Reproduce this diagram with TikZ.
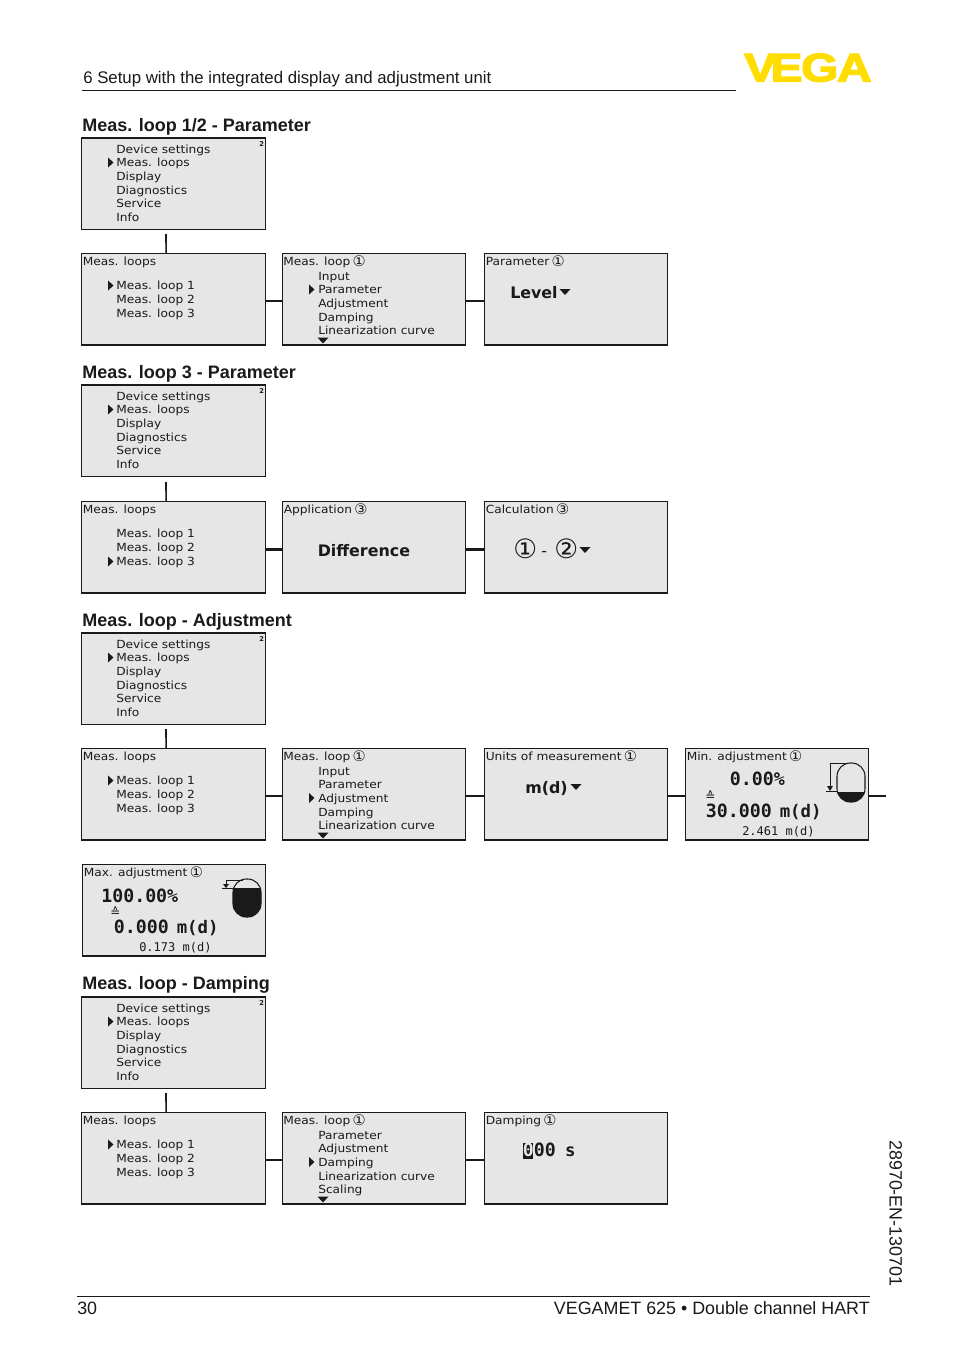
\documentclass[tikz,border=0pt]{standalone}
\usepackage{fontspec}
\setmainfont{Liberation Sans}
\newfontfamily\lcd[FakeStretch=1.09]{DejaVu Sans}
\newfontfamily\lcdn{DejaVu Sans}
\newfontfamily\lcdm{DejaVu Sans Mono}
\newfontfamily\vegafont[FakeBold=3]{Liberation Sans Bold}
\definecolor{screenbg}{HTML}{E6E6E6}
\definecolor{vegay}{HTML}{FFDD00}
\definecolor{ink}{HTML}{1A1A1A}
\newcount\tn
\newcommand\cn[1]{\kern-1.2pt{\lcdn\fontsize{11}{10}\selectfont\raisebox{-.8pt}{#1}}}
\newcommand\vm{\fontsize{13}{15}\selectfont}
\tikzset{
 x=.75pt,y=-.75pt,
 screen/.style={draw=ink,fill=screenbg,line width=.95pt,minimum width=137.6pt,minimum height=68.7pt,inner sep=0,anchor=north west,xshift=-.6pt,yshift=.5pt},
 txt/.style={anchor=base west,inner sep=0,text=ink},
 link/.style={draw=ink,line width=1.25pt},
 thicklink/.style={draw=ink,line width=2pt},
 rule/.style={draw=ink,line width=.6pt},
 heading/.style={txt,font=\bfseries\fontsize{13.5}{16}\selectfont},
 plain/.style={txt,font=\fontsize{12.6}{15}\selectfont},
 plainb/.style={txt,font=\fontsize{13.4}{15}\selectfont},
 menu/.style={txt,font=\lcd\fontsize{8.4}{10}\selectfont},
 big/.style={txt,font=\lcdn\bfseries\fontsize{11.9}{14}\selectfont},
 val/.style={txt,font=\lcdm\bfseries\fontsize{13.7}{15}\selectfont},
 small/.style={txt,font=\lcdm\fontsize{9}{11}\selectfont},
 corr/.style={txt,font=\lcdn\fontsize{9}{10}\selectfont},
 circ/.style={txt,font=\lcdn\fontsize{20}{22}\selectfont},
}
\newcommand\T[4][menu]{\global\advance\tn by 1 \node[#1] (t\the\tn) at (#2,#3) {#4};}
\newcommand\rtri[2]{\fill[ink] (#1,#2-5) -- (#1+5.5,#2) -- (#1,#2+5) -- cycle;}
\newcommand\dtri[2]{\fill[ink] (#1-5.5,#2-3) -- (#1+5.5,#2-3) -- (#1,#2+3) -- cycle;}
\newcommand\mainmenu[2]{%
 \node[screen] (#1) at (82,#2) {};
 \T{116}{#2+15}{Device settings}
 \T{116}{#2+28.7}{Meas. loops}
 \T{116}{#2+42.4}{Display}
 \T{116}{#2+56.1}{Diagnostics}
 \T{116}{#2+69.8}{Service}
 \T{116}{#2+83.5}{Info}
 \T[txt,font=\lcdn\bfseries\fontsize{5}{6}\selectfont]{259}{#2+8}{2}
 \rtri{108}{#2+24.5}
}
\newcommand\loops[3]{%
 \node[screen] (#1) at (82,#2) {};
 \T{82.5}{#2+11.5}{Meas. loops}
 \T{116}{#2+36}{Meas. loop 1}
 \T{116}{#2+50}{Meas. loop 2}
 \T{116}{#2+63.7}{Meas. loop 3}
 \rtri{108}{#2+#3}
}
\newcommand\submenu[8]{%
 \node[screen] (#1) at (282.5,#2) {};
 \T{283}{#2+11.5}{Meas. loop \cn{①}}
 \T{318}{#2+26.5}{#3}
 \T{318}{#2+40.2}{#4}
 \T{318}{#2+53.9}{#5}
 \T{318}{#2+67.6}{#6}
 \T{318}{#2+81.3}{#7}
 \rtri{309}{#2+#8}
 \dtri{323}{#2+87}
}
\newcommand\tankoutline[4]{\draw[ink,line width=.8pt,rounded corners=10pt,fill=screenbg] (#1,#2) rectangle (#3,#4);}
\begin{document}
\begin{tikzpicture}
\useasboundingbox[fill=white] (0,0) rectangle (954,1354);
% header / footer
\T[plain]{83}{83}{6 Setup with the integrated display and adjustment unit}
\coordinate (hl) at (82,90.5); \coordinate (hr) at (736,90.5);
\draw[rule] (hl) -- (hr);
\node[anchor=base west,inner sep=0,text=vegay,font=\vegafont\fontsize{30}{30}\selectfont] (logo) at (744,81.5) {\scalebox{1.2}[1.0]{V\kern-.12em E\kern-.03em G\kern-.03em A}};
\coordinate (fl) at (77,1296.5); \coordinate (fr) at (870,1296.5);
\draw[rule] (fl) -- (fr);
\T[plainb]{77}{1314.5}{30}
\node[plainb,anchor=base east] (foot) at (870,1314) {VEGAMET 625 • Double channel HART};
\node[plainb,anchor=base west,rotate=-90] (code) at (889.5,1140) {28970-EN-130701};

% Section 1
\T[heading]{82}{131}{Meas. loop 1/2 - Parameter}
\mainmenu{a1}{138}
\loops{a2}{253.5}{32}
\submenu{a3}{253.5}{Input}{Parameter}{Adjustment}{Damping}{Linearization curve}{36}
\node[screen] (a4) at (484.5,253.5) {};
\T{485.5}{265}{Parameter \cn{①}}
\T[big]{510}{298}{Level}
\dtri{565}{292}
\draw[link] ([shift={(-7.5,4)}]a1.south) -- ([xshift=-5.6pt]a2.north);
\draw[link] ([yshift=-1.5pt]a2.east) -- ([yshift=-1.5pt]a3.west);
\draw[link] ([yshift=-1.5pt]a3.east) -- ([yshift=-1.5pt]a4.west);

% Section 2
\T[heading]{82}{378}{Meas. loop 3 - Parameter}
\mainmenu{b1}{385}
\loops{b2}{501.5}{60}
\node[screen] (b3) at (282.5,501.5) {};
\T{283.5}{513}{Application \cn{③}}
\T[big]{317.5}{556.5}{Difference}
\node[screen] (b4) at (484.5,501.5) {};
\T{485.5}{513}{Calculation \cn{③}}
\T[circ]{513}{558.5}{①}
\T[txt,font=\lcdn\fontsize{12}{14}\selectfont]{541}{556}{-}
\T[circ]{554}{558.5}{②}
\dtri{585}{550}
\draw[link] ([shift={(-7.5,5)}]b1.south) -- ([xshift=-5.6pt]b2.north);
\draw[thicklink] ([yshift=-1.5pt]b2.east) -- ([yshift=-1.5pt]b3.west);
\draw[thicklink] ([yshift=-1.5pt]b3.east) -- ([yshift=-1.5pt]b4.west);

% Section 3
\T[heading]{82}{626}{Meas. loop - Adjustment}
\mainmenu{c1}{633}
\loops{c2}{748.5}{32}
\submenu{c3}{748.5}{Input}{Parameter}{Adjustment}{Damping}{Linearization curve}{49.5}
\node[screen] (c4) at (484.5,748.5) {};
\T{485.5}{760}{Units of measurement \cn{①}}
\T[big]{525}{793}{m(d)}
\dtri{576}{787}
\node[screen] (c5) at (685.5,748.5) {};
\T{686.5}{760}{Min. adjustment \cn{①}}
\T[val]{729.5}{785.5}{0.00\%}
\T[corr]{705}{800.5}{≙}
\T[val]{705.5}{817.5}{30.000\hspace{6pt}{\vm m(d)}}
\T[small]{742}{835}{2.461 m(d)}
% min tank
\tankoutline{837}{763}{865}{802}
\begin{scope}
\clip (836,792) rectangle (866,803);
\fill[ink,rounded corners=10pt] (837,763) rectangle (865,802);
\end{scope}
\draw[ink,line width=.7pt] (846,763) -- (830,763) -- (830,788);
\fill[ink] (827,786) -- (833,786) -- (830,791) -- cycle;
\draw[ink,line width=.7pt] (826,791.5) -- (837,791.5);
\coordinate (c5end) at (886,797);
\draw[link] ([yshift=-1.5pt]c2.east) -- ([yshift=-1.5pt]c3.west);
\draw[link] ([yshift=-1.5pt]c3.east) -- ([yshift=-1.5pt]c4.west);
\draw[link] ([yshift=-1.5pt]c4.east) -- ([yshift=-1.5pt]c5.west);
\draw[link] ([yshift=-1.5pt]c5.east) -- ([yshift=-1.5pt]c5.east -| c5end);
\draw[link] ([shift={(-7.5,4)}]c1.south) -- ([xshift=-5.6pt]c2.north);
% max screen
\node[screen] (c6) at (82.5,864.5) {};
\T{83.5}{876}{Max. adjustment \cn{①}}
\T[val]{101}{902.5}{100.00\%}
\T[corr]{110}{916.5}{≙}
\T[val]{113.5}{933.5}{0.000\hspace{6pt}{\vm m(d)}}
\T[small]{139}{951.5}{0.173 m(d)}
\tankoutline{233}{879}{261}{917}
\begin{scope}
\clip (232,888) rectangle (262,918);
\fill[ink,rounded corners=10pt] (233,879) rectangle (261,917);
\end{scope}
\draw[ink,line width=.7pt] (243,880) -- (226,880) -- (226,885);
\fill[ink] (223,884) -- (229,884) -- (226,888) -- cycle;
\draw[ink,line width=.7pt] (222,888.5) -- (233,888.5);

% Section 4
\T[heading]{82}{989}{Meas. loop - Damping}
\mainmenu{d1}{997}
\loops{d2}{1112.5}{32}
\submenu{d3}{1112.5}{Parameter}{Adjustment}{Damping}{Linearization curve}{Scaling}{49.5}
\node[screen] (d4) at (484.5,1112.5) {};
\T{485.5}{1124}{Damping \cn{①}}
\node[anchor=north west,fill=ink,inner sep=0,minimum width=8pt,minimum height=12pt] (curs) at (522.5,1143) {};
\T[txt,text=screenbg,font=\lcdm\bfseries\fontsize{13.7}{15}\selectfont]{522.5}{1156.5}{0}
\T[val]{533.5}{1156.5}{00\hspace{7pt}{\vm s}}
\draw[link] ([shift={(-7.5,4)}]d1.south) -- ([xshift=-5.6pt]d2.north);
\draw[link] ([yshift=-1.5pt]d2.east) -- ([yshift=-1.5pt]d3.west);
\draw[link] ([yshift=-1.5pt]d3.east) -- ([yshift=-1.5pt]d4.west);
\end{tikzpicture}
\end{document}
